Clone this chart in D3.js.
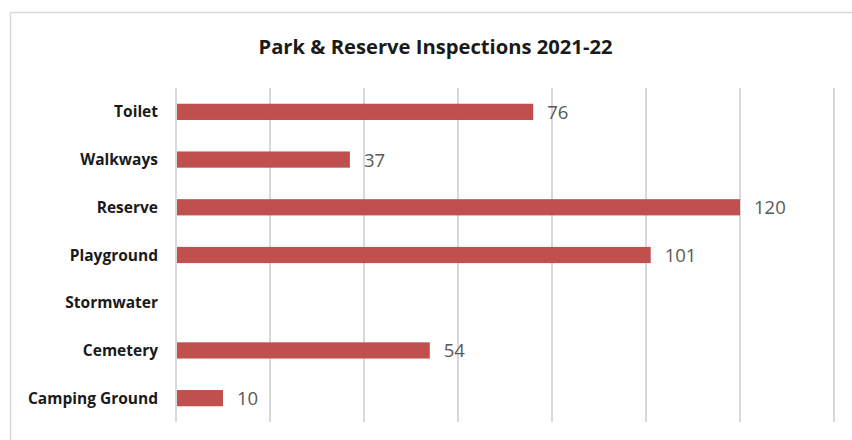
<!DOCTYPE html>
<html>
<head>
<meta charset="utf-8">
<script src="https://cdn.jsdelivr.net/npm/d3@7"></script>
<style>
  html, body { margin: 0; padding: 0; background: #fff; }
  svg { display: block; font-family: "Open Sans", sans-serif; }
</style>
</head>
<body>
<svg id="chart" width="852" height="440"></svg>
<script>
// Inspection counts by facility type
const categories = ["Toilet", "Walkways", "Reserve", "Playground", "Stormwater", "Cemetery", "Camping Ground"];
const inspections = [76, 37, 120, 101, null, 54, 10];
const xTicks = [0, 20, 40, 60, 80, 100, 120, 140];
const chartTitle = "Park & Reserve Inspections 2021-22";

const svg = d3.select("#chart");
const W = 852, H = 440;

// Chart area frame
svg.append("rect")
  .attr("x", 10.5).attr("y", 12.5)
  .attr("width", W).attr("height", H)
  .attr("fill", "#fff")
  .attr("stroke", "#d9d9d9").attr("stroke-width", 1.5);

const x = d3.scaleLinear().domain([0, 140]).range([176, 834]);
const y = d3.scaleBand().domain(categories).range([88, 422]).paddingInner(0.66).paddingOuter(0.33);

// Vertical gridlines
svg.append("g")
  .selectAll("line")
  .data(xTicks)
  .join("line")
  .attr("x1", d => x(d)).attr("x2", d => x(d))
  .attr("y1", 88).attr("y2", 422)
  .attr("stroke", "#d9d9d9").attr("stroke-width", 2);

// Bars
const rows = categories.map((c, i) => ({ cat: c, val: inspections[i] }));
svg.append("g")
  .selectAll("rect")
  .data(rows.filter(d => d.val != null))
  .join("rect")
  .attr("x", x(0) + 1)
  .attr("y", d => y(d.cat))
  .attr("width", d => x(d.val) - x(0) - 1)
  .attr("height", y.bandwidth())
  .attr("fill", "#c0504d");

// Value labels
svg.append("g")
  .selectAll("text")
  .data(rows.filter(d => d.val != null))
  .join("text")
  .attr("x", d => x(d.val) + 14)
  .attr("y", d => y(d.cat) + y.bandwidth() / 2)
  .attr("dy", "0.38em")
  .attr("fill", "#595959")
  .attr("font-size", 18.5)
  .text(d => d.val);

// Category axis labels
const yAxis = d3.axisLeft(y).tickSize(0).tickPadding(18);
const gy = svg.append("g").attr("transform", `translate(${x(0)},0)`).call(yAxis);
gy.select(".domain").remove();
gy.selectAll("text")
  .attr("font-family", "'Open Sans', sans-serif")
  .attr("font-size", 15.5)
  .attr("font-weight", "bold")
  .attr("dy", "0.36em")
  .attr("fill", "#1a1a1a");

// Title
svg.append("text")
  .attr("x", 435.5).attr("y", 53.5)
  .attr("text-anchor", "middle")
  .attr("font-size", 20.2)
  .attr("font-weight", "bold")
  .attr("fill", "#1a1a1a")
  .text(chartTitle);
</script>
</body>
</html>
